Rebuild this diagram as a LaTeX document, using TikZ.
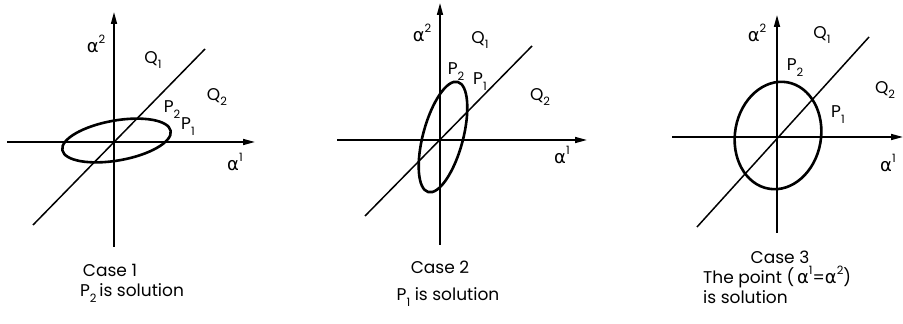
\documentclass[tikz,border=0pt]{standalone}
\usepackage{fontspec}
\setmainfont{Poppins}
\newfontfamily\griega{DejaVu Sans}
\usetikzlibrary{arrows.meta}

\newcommand{\alp}[1]{{\griega\fontsize{18}{20}\selectfont α}\raisebox{0.55em}{\fontsize{11.5}{12}\selectfont #1}}
\newcommand{\sub}[1]{\raisebox{-0.35em}{\fontsize{11.5}{12}\selectfont #1}}

\begin{document}
\begin{tikzpicture}[
  x=1pt, y=1pt, font=\fontsize{17}{19}\selectfont,
  eje/.style={-{Triangle[length=12pt,width=6pt]}, line width=1.6pt},
  recta/.style={line width=1.5pt},
  elipse/.style={line width=2.6pt},
  etiq/.style={inner sep=0pt}
]
  \useasboundingbox (0,0) rectangle (903,324);

  % Caso 1
  \coordinate (o1) at (114,182);
  \coordinate (v1a) at (114,77);   \coordinate (v1b) at (114,312);
  \coordinate (h1a) at (7,182);    \coordinate (h1b) at (255,182);
  \coordinate (d1a) at (33,99);    \coordinate (d1b) at (205,275);
  \draw[eje] (v1a) -- (v1b);
  \draw[eje] (h1a) -- (h1b);
  \draw[recta] (d1a) -- (d1b);
  \draw[elipse] (116.5,183.5) ellipse [x radius=55, y radius=20, rotate=10];
  \node[etiq] (a21) at (96,280) {\alp{2}};
  \node[etiq] (q11) at (153,264) {Q\sub{1}};
  \node[etiq] (q21) at (217,227) {Q\sub{2}};
  \node[etiq] (p21) at (172,214) {P\sub{2}};
  \node[etiq] (p11) at (188,197) {P\sub{1}};
  \node[etiq] (a11) at (235,162) {\alp{1}};
  \node[etiq] (c1) at (110,54) {Case 1};
  \node[etiq] (s1) at (132,31) {P\sub{2}\,is solution};

  % Caso 2
  \coordinate (o2) at (440,184);
  \coordinate (v2a) at (440,79);   \coordinate (v2b) at (440,321);
  \coordinate (h2a) at (337,184);  \coordinate (h2b) at (587,184);
  \coordinate (d2a) at (365,108);  \coordinate (d2b) at (532,278);
  \draw[eje] (v2a) -- (v2b);
  \draw[eje] (h2a) -- (h2b);
  \draw[recta] (d2a) -- (d2b);
  \draw[elipse] (443,187) ellipse [x radius=57, y radius=20, rotate=75];
  \node[etiq] (a22) at (422,291) {\alp{2}};
  \node[etiq] (q12) at (480,284) {Q\sub{1}};
  \node[etiq] (p22) at (456,252) {P\sub{2}};
  \node[etiq] (p12) at (480,242) {P\sub{1}};
  \node[etiq] (q22) at (540,227) {Q\sub{2}};
  \node[etiq] (a12) at (562,169) {\alp{1}};
  \node[etiq] (c2) at (440,57) {Case 2};
  \node[etiq] (s2) at (448,27) {P\sub{1} is solution};

  % Caso 3
  \coordinate (o3) at (777,187);
  \coordinate (v3a) at (777,91);   \coordinate (v3b) at (777,309);
  \coordinate (h3a) at (672,187);  \coordinate (h3b) at (903,187);
  \coordinate (d3a) at (697,97);   \coordinate (d3b) at (869,287);
  \draw[eje] (v3a) -- (v3b);
  \draw[eje] (h3a) -- (h3b);
  \draw[recta] (d3a) -- (d3b);
  \draw[elipse] (778,188.5) ellipse [x radius=54, y radius=43, rotate=80];
  \node[etiq] (a23) at (757,291) {\alp{2}};
  \node[etiq] (q13) at (822,289) {Q\sub{1}};
  \node[etiq] (p23) at (795,256) {P\sub{2}};
  \node[etiq] (q23) at (885,234) {Q\sub{2}};
  \node[etiq] (p13) at (838,209) {P\sub{1}};
  \node[etiq, anchor=west] (a13) at (880,161) {\alp{1}};
  \node[etiq] (c3) at (780,67) {Case 3};
  \node[etiq, anchor=west] (t3) at (703,47) {The point (\,\alp{1}=\alp{2})};
  \node[etiq, anchor=west] (s3) at (703,27) {is solution};
\end{tikzpicture}
\end{document}
